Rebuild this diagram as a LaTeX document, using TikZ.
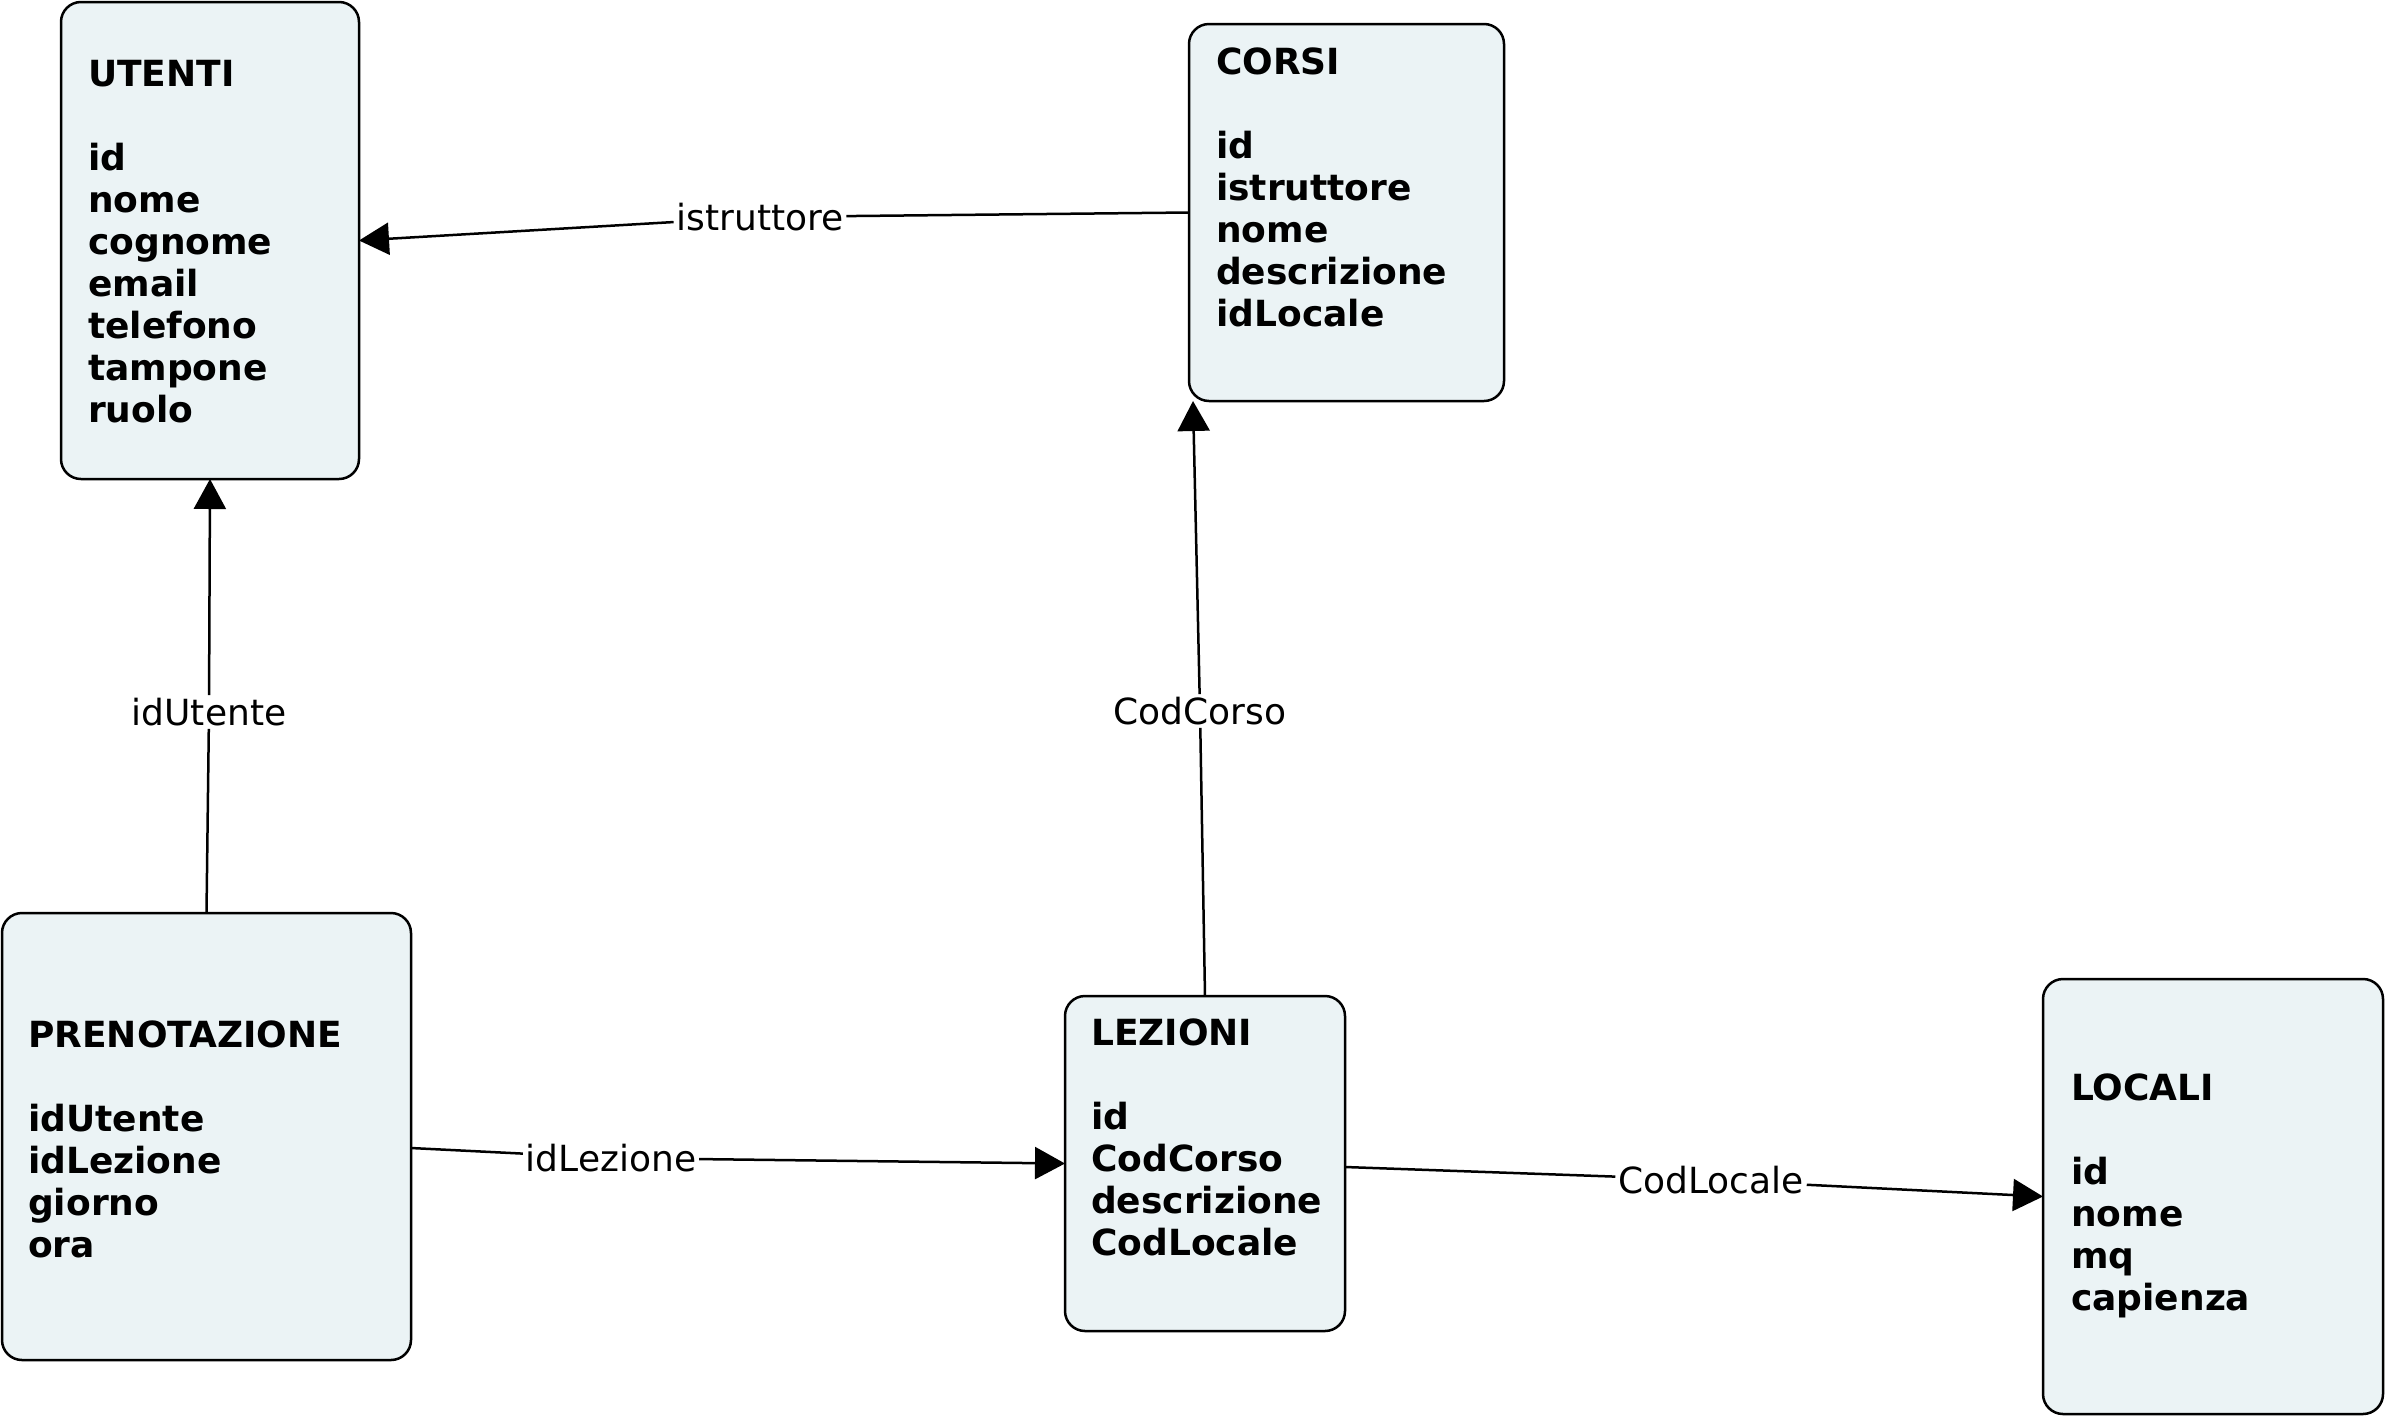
\documentclass[tikz,border=0pt]{standalone}
\usepackage{fontspec}
\setmainfont{DejaVu Sans}
\usetikzlibrary{arrows.meta}
\definecolor{boxfill}{RGB}{235,243,245}
\begin{document}
\begin{tikzpicture}[x=1pt,y=-1pt,
  entity/.style={draw=black, line width=2.5pt, fill=boxfill, rounded corners=20pt, inner sep=0pt, outer sep=0pt},
  fields/.style={anchor=base west, inner sep=0pt, font=\fontsize{36}{42}\selectfont\bfseries},
  link/.style={line width=2.5pt, -{Triangle[length=30pt,width=32pt]}},
  lab/.style={inner sep=3pt, outer sep=0pt, font=\fontsize{36}{42}\selectfont}]
\useasboundingbox (0,0) rectangle (2390,1422);
% boxes
\node[entity, minimum width=298pt, minimum height=477pt] (utenti) at (210,240.5) {};
\node[entity, minimum width=315pt, minimum height=377pt] (corsi) at (1346.5,212.5) {};
\node[entity, minimum width=409pt, minimum height=447pt] (prenotazione) at (206.5,1136.5) {};
\node[entity, minimum width=280pt, minimum height=335pt] (lezioni) at (1205,1163.5) {};
\node[entity, minimum width=340pt, minimum height=435pt] (locali) at (2213,1196.5) {};
% texts
\node[fields] (utentiT) at (88,86) {\begin{tabular}[t]{@{}l@{}}UTENTI\\ \\ id\\ nome\\ cognome\\ email\\ telefono\\ tampone\\ ruolo\end{tabular}};
\node[fields] (corsiT) at (1216,74) {\begin{tabular}[t]{@{}l@{}}CORSI\\ \\ id\\ istruttore\\ nome\\ descrizione\\ idLocale\end{tabular}};
\node[fields] (prenotazioneT) at (28,1047) {\begin{tabular}[t]{@{}l@{}}PRENOTAZIONE\\ \\ idUtente\\ idLezione\\ giorno\\ ora\end{tabular}};
\node[fields] (lezioniT) at (1091,1045) {\begin{tabular}[t]{@{}l@{}}LEZIONI\\ \\ id\\ CodCorso\\ descrizione\\ CodLocale\end{tabular}};
\node[fields] (localiT) at (2071,1100) {\begin{tabular}[t]{@{}l@{}}LOCALI\\ \\ id\\ nome\\ mq\\ capienza\end{tabular}};
% connector labels
\node[lab] (l1) at (760,217) {istruttore};
\node[lab] (l2) at (1200,711) {CodCorso};
\node[lab] (l3) at (209,712) {idUtente};
\node[lab] (l4) at (611,1158) {idLezione};
\node[lab] (l5) at (1711,1180) {CodLocale};
% connectors
\draw[link] (corsi.west) -- (l1) -- (utenti.east);
\draw[link] (lezioni.north) -- (l2) -- ([xshift=4pt]corsi.south west);
\draw[link] (prenotazione.north) -- (l3) -- (utenti.south);
\draw[link] ([yshift=-11.5pt]prenotazione.east) -- (l4) -- (lezioni.west);
\draw[link] ([yshift=-3.5pt]lezioni.east) -- (l5) -- (locali.west);
\end{tikzpicture}
\end{document}
